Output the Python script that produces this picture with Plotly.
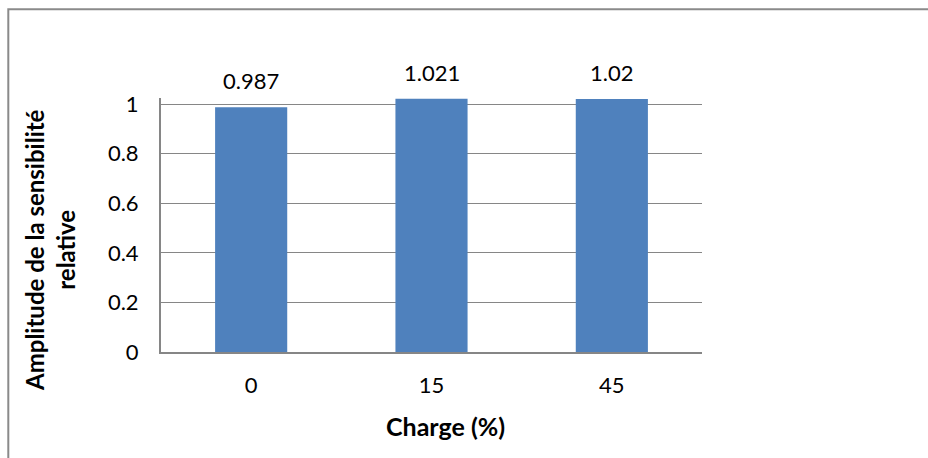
import plotly.graph_objects as go

# Data
charges = ["0", "15", "45"]
sensibilite = [0.987, 1.021, 1.02]
value_labels = ["0.987", "1.021", "1.02"]
y_ticks = [0, 0.2, 0.4, 0.6, 0.8, 1.0]
y_tick_text = ["0", "0.2", "0.4", "0.6", "0.8", "1"]

# Canvas and plot-area geometry (pixels)
W, H = 928, 458
L, R, T, B = 161, 702, 98, 352
Y_MAX = 1.0242


def px_x(x):
    return (x - L) / (R - L)


def px_y(y):
    return (B - y) / (B - T)


FONT = "Lato"
GRID = "#868686"
BAR = "#4F81BD"

fig = go.Figure()
fig.add_trace(go.Bar(
    x=charges,
    y=sensibilite,
    marker=dict(color=BAR, line=dict(width=0)),
    hoverinfo="x+y",
))

# value labels above the bars (category axis: position by index)
for i, (v, t) in enumerate(zip(sensibilite, value_labels)):
    fig.add_annotation(
        x=i, y=v, xref="x", yref="y", text=t, showarrow=False,
        yanchor="bottom", xanchor="center", yshift=11,
        font=dict(family=FONT, size=22, color="#000000"),
    )

# axis titles
fig.add_annotation(
    x=px_x(50), y=px_y(250), xref="paper", yref="paper",
    text="<b>Amplitude de la sensibilité<br>relative</b>",
    textangle=-90, showarrow=False, xanchor="center", yanchor="middle",
    font=dict(family=FONT, size=24, color="#000000"),
)
fig.add_annotation(
    x=px_x(445), y=px_y(426), xref="paper", yref="paper",
    text="<b>Charge (%)</b>", showarrow=False,
    xanchor="center", yanchor="middle",
    font=dict(family=FONT, size=25, color="#000000"),
)

# tail of a line of text sitting above the chart frame
fig.add_annotation(
    x=px_x(118), y=px_y(1), xref="paper", yref="paper",
    text="p", showarrow=False, xanchor="center", yanchor="bottom",
    borderpad=0,
    font=dict(family="Liberation Serif", size=24, color="#000000"),
)

# chart frame
fig.add_shape(
    type="rect", xref="paper", yref="paper",
    x0=px_x(8.3), x1=px_x(W + 20), y0=px_y(H + 20), y1=px_y(9.3),
    line=dict(color="#8a8a8a", width=2), fillcolor="rgba(0,0,0,0)",
    layer="above",
)

fig.update_layout(
    width=W, height=H,
    margin=dict(l=L, r=W - R, t=T, b=H - B, pad=0),
    paper_bgcolor="white", plot_bgcolor="white",
    bargap=0.6, showlegend=False,
    font=dict(family=FONT, size=22, color="#000000"),
    xaxis=dict(
        type="category", range=[-0.5, 2.5], showgrid=False, zeroline=False,
        showline=True, linecolor=GRID, linewidth=2,
        ticks="", ticklabelstandoff=13,
        tickfont=dict(family=FONT, size=22, color="#000000"),
    ),
    yaxis=dict(
        range=[0, Y_MAX], tickvals=y_ticks, ticktext=y_tick_text,
        showgrid=True, gridcolor=GRID, gridwidth=1, zeroline=False,
        showline=True, linecolor=GRID, linewidth=2,
        ticks="", ticklabelstandoff=16,
        tickfont=dict(family=FONT, size=22, color="#000000"),
    ),
)

fig.write_html("out.html")
